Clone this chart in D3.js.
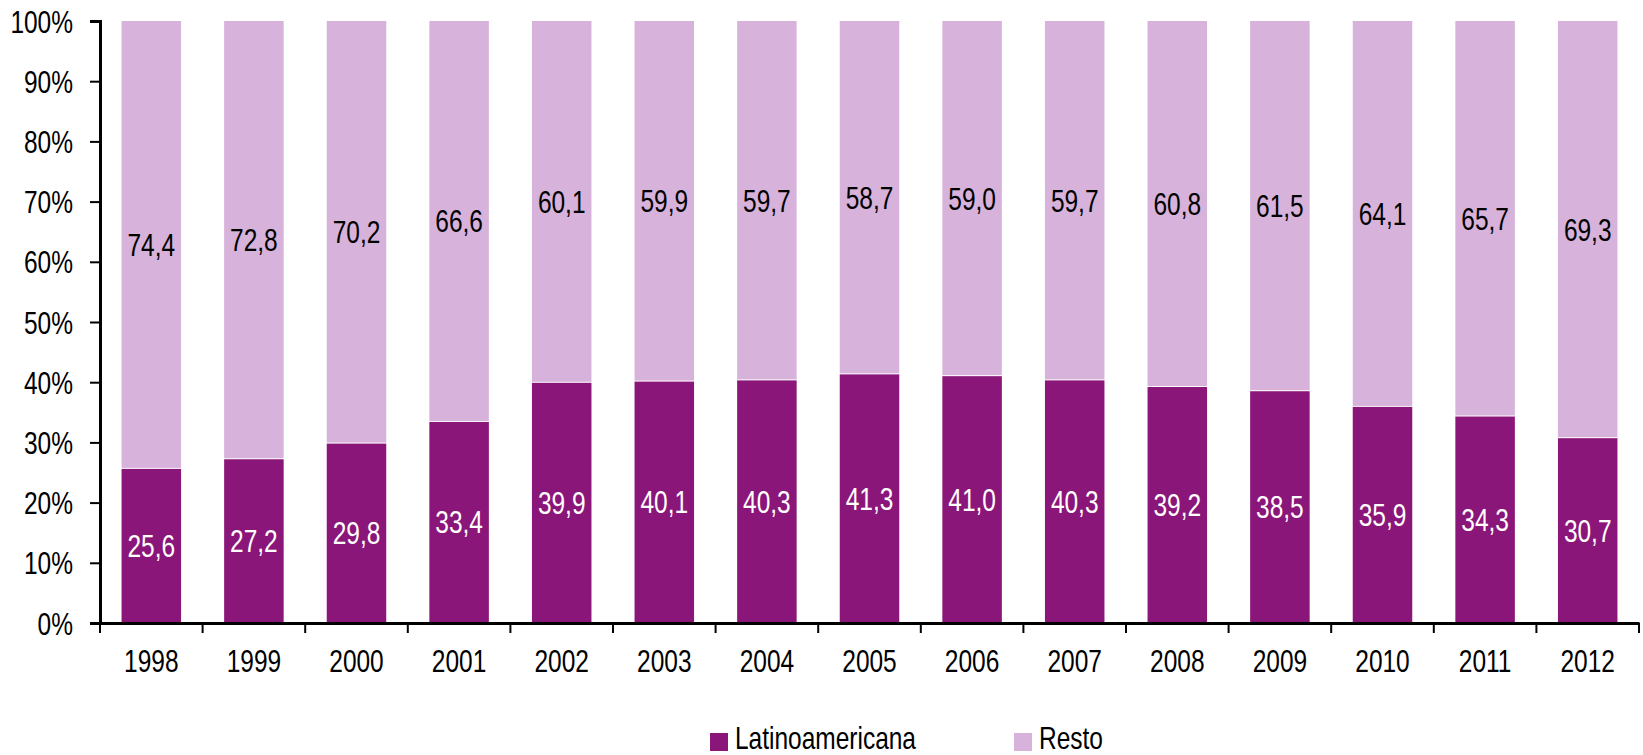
<!DOCTYPE html>
<html><head><meta charset="utf-8">
<script src="https://cdn.jsdelivr.net/npm/d3@7"></script>
<style>body{margin:0;background:#fff}svg{display:block}text{font-family:"Liberation Sans",Arial,sans-serif}</style>
</head><body>
<svg id="c" width="1643" height="755"></svg>
<script>
const years = ["1998","1999","2000","2001","2002","2003","2004","2005","2006","2007","2008","2009","2010","2011","2012"];
const latino = [25.6,27.2,29.8,33.4,39.9,40.1,40.3,41.3,41.0,40.3,39.2,38.5,35.9,34.3,30.7];
const resto = [74.4,72.8,70.2,66.6,60.1,59.9,59.7,58.7,59.0,59.7,60.8,61.5,64.1,65.7,69.3];
const seriesNames = ["Latinoamericana","Resto"];
const colors = ["#8B1679","#D7B2DA"];
const yTicks = [0,10,20,30,40,50,60,70,80,90,100];

(function(){
const svg = d3.select("#c");
const mL = 100, mR = 1639, mT = 21, mB = 623;
const FS = 31, SX = 0.79;
const x = d3.scaleBand().domain(years).range([mL,mR]).paddingInner(0.42).paddingOuter(0.21);
const y = d3.scaleLinear().domain([0,100]).range([mB,mT]);
const fmt = v => v.toFixed(1).replace(".",",");

const data = years.map((yr,i)=>({yr, a:latino[i], b:resto[i]}));
const g = svg.append("g");
g.selectAll("rect.a").data(data).join("rect").attr("class","a")
 .attr("x",d=>x(d.yr)).attr("width",x.bandwidth())
 .attr("y",d=>y(d.a)).attr("height",d=>y(0)-y(d.a)).attr("fill",colors[0]);
g.selectAll("rect.b").data(data).join("rect").attr("class","b")
 .attr("x",d=>x(d.yr)).attr("width",x.bandwidth())
 .attr("y",d=>y(d.a+d.b)).attr("height",d=>y(d.a)-y(d.a+d.b)-1).attr("fill",colors[1]);

function label(sel, cx, cy, fill){
  sel.attr("transform",d=>`translate(${cx(d)},${cy(d)+11}) scale(${SX},1)`)
   .attr("text-anchor","middle").attr("fill",fill).attr("font-size",FS);
}
g.selectAll("text.la").data(data).join("text").attr("class","la")
 .call(label, d=>x(d.yr)+x.bandwidth()/2, d=>y(d.a/2), "#fff").text(d=>fmt(d.a));
g.selectAll("text.lb").data(data).join("text").attr("class","lb")
 .call(label, d=>x(d.yr)+x.bandwidth()/2, d=>y(d.a+d.b/2), "#000").text(d=>fmt(d.b));

const ya = svg.append("g").attr("transform",`translate(${mL},0)`)
 .call(d3.axisLeft(y).tickValues(yTicks).tickFormat(d=>d+"%").tickSize(10).tickSizeOuter(10));
ya.select(".domain").attr("stroke","#000").attr("stroke-width",3);
ya.selectAll(".tick line").attr("stroke","#000").attr("stroke-width",2);
ya.selectAll(".tick text").attr("font-size",FS).attr("fill","#000").attr("font-family",null)
  .attr("transform",`scale(${SX},1)`).attr("x",-27/SX).attr("dy",null).attr("y",11);

const xa = svg.append("g").attr("transform",`translate(0,${mB})`)
 .call(d3.axisBottom(x).tickSize(0).tickSizeOuter(0));
xa.select(".domain").attr("stroke","#000").attr("stroke-width",3);
xa.selectAll(".tick text").attr("font-size",FS).attr("fill","#000").attr("font-family",null)
  .attr("transform",`scale(${SX},1)`).attr("dy",null).attr("y",49);
const bounds = d3.range(years.length+1).map(i=>mL + i*(mR-mL)/years.length);
svg.append("g").selectAll("line").data(bounds).join("line")
 .attr("x1",d=>d).attr("x2",d=>d).attr("y1",mB).attr("y2",mB+10)
 .attr("stroke","#000").attr("stroke-width",2);

const leg = svg.append("g");
const legX = [710,1014];
seriesNames.forEach((n,i)=>{
  leg.append("rect").attr("x",legX[i]).attr("y",733).attr("width",18).attr("height",18).attr("fill",colors[i]);
  leg.append("text").attr("transform",`translate(${legX[i]+25},749) scale(${SX},1)`)
    .attr("font-size",FS).attr("fill","#000").text(n);
});
})();
</script>
</body></html>
